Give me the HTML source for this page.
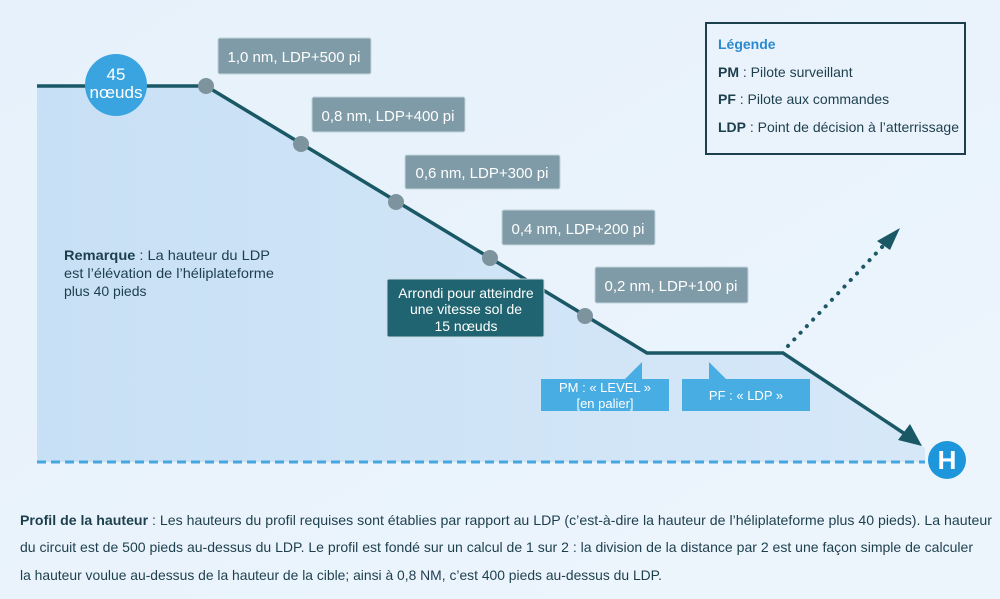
<!DOCTYPE html>
<html><head><meta charset="utf-8"><style>
html,body{margin:0;padding:0;background:#eaf3fc;}
svg{display:block;font-family:"Liberation Sans",sans-serif;}
</style></head><body>
<svg width="1000" height="599" viewBox="0 0 1000 599" xmlns="http://www.w3.org/2000/svg">
<defs>
<linearGradient id="bg" x1="0" y1="0" x2="1" y2="1"><stop offset="0" stop-color="#e6f1fb"/><stop offset="1" stop-color="#edf5fc"/></linearGradient>
<linearGradient id="fill" x1="0" y1="0" x2="1" y2="0"><stop offset="0" stop-color="#c8e0f5"/><stop offset="1" stop-color="#d6e8f8"/></linearGradient>
</defs>
<rect width="1000" height="599" fill="url(#bg)"/>
<polygon points="37,86 206,86 647,353 783,353 925,448 925,462 37,462" fill="url(#fill)"/>
<line x1="37" y1="462" x2="925" y2="462" stroke="#45a6e0" stroke-width="3" stroke-dasharray="9,5"/>
<polyline points="37,86 206,86 647,353 783,353 905,434" fill="none" stroke="#1b5866" stroke-width="3.5"/>
<polygon points="922,446 898,440 910,424" fill="#1b5866"/>
<line x1="788" y1="346" x2="884" y2="245" stroke="#1b5866" stroke-width="4" stroke-dasharray="0.1,9" stroke-linecap="round"/>
<polygon points="900,228 877,241 890,250" fill="#1b5866"/>
<g fill="#7d949f"><circle cx="206" cy="86" r="8"/><circle cx="301" cy="144" r="8"/><circle cx="396" cy="202" r="8"/><circle cx="490" cy="258" r="8"/><circle cx="585" cy="316" r="8"/></g>
<circle cx="116" cy="85" r="31" fill="#3aa4e0"/>
<text x="116" y="80" fill="#fff" font-size="17" text-anchor="middle">45</text>
<text x="116" y="98" fill="#fff" font-size="17" text-anchor="middle">nœuds</text>
<g fill="#7f9ba7" stroke="#c3d3dc" stroke-width="1">
<rect x="218" y="38" width="153" height="36" rx="2"/>
<rect x="312" y="97" width="153" height="35" rx="2"/>
<rect x="405" y="155" width="155" height="34" rx="2"/>
<rect x="502" y="210" width="153" height="35" rx="2"/>
<rect x="595" y="267" width="153" height="36" rx="2"/>
</g>
<g fill="#fff" font-size="15" text-anchor="middle">
<text x="294" y="62">1,0 nm, LDP+500 pi</text>
<text x="388" y="121">0,8 nm, LDP+400 pi</text>
<text x="482" y="178">0,6 nm, LDP+300 pi</text>
<text x="578" y="234">0,4 nm, LDP+200 pi</text>
<text x="671" y="291">0,2 nm, LDP+100 pi</text>
</g>
<rect x="387" y="279" width="157" height="58" rx="2" fill="#1f6470" stroke="#c8d9e0"/>
<g fill="#fff" font-size="14" text-anchor="middle">
<text x="466" y="298">Arrondi pour atteindre</text>
<text x="466" y="314">une vitesse sol de</text>
<text x="466" y="331">15 nœuds</text>
</g>
<path d="M541,379 H625 L642,362 V379 H669 V411 H541 Z" fill="#48ade3"/>
<path d="M682,379 V411 H810 V379 H726 L709,362 V379 Z" fill="#48ade3"/>
<g fill="#fff" font-size="13" text-anchor="middle">
<text x="605" y="392">PM : « LEVEL »</text>
<text x="605" y="408">[en palier]</text>
<text x="746" y="400">PF : « LDP »</text>
</g>
<circle cx="947" cy="460" r="19" fill="#1e96dc"/>
<text x="947" y="469" fill="#fff" font-size="26" font-weight="bold" text-anchor="middle">H</text>
<rect x="706" y="23" width="259" height="131" fill="#eaf3fc" stroke="#1b3f4d" stroke-width="2"/>
<text x="718" y="49" fill="#2a8ad0" font-size="14" font-weight="bold">Légende</text>
<g fill="#1d3f4d" font-size="14">
<text x="718" y="77"><tspan font-weight="bold">PM</tspan> : Pilote surveillant</text>
<text x="718" y="104"><tspan font-weight="bold">PF</tspan> : Pilote aux commandes</text>
<text x="718" y="132" textLength="241" lengthAdjust="spacingAndGlyphs"><tspan font-weight="bold">LDP</tspan> : Point de décision à l’atterrissage</text>
</g>
<g fill="#1d3f4d" font-size="14">
<text x="64" y="260" textLength="206" lengthAdjust="spacingAndGlyphs"><tspan font-weight="bold">Remarque</tspan> : La hauteur du LDP</text>
<text x="64" y="278" textLength="210" lengthAdjust="spacingAndGlyphs">est l’élévation de l’héliplateforme</text>
<text x="64" y="296">plus 40 pieds</text>
</g>
<g fill="#1d3f4d" font-size="14">
<text x="20" y="525" textLength="972" lengthAdjust="spacingAndGlyphs"><tspan font-weight="bold">Profil de la hauteur</tspan> : Les hauteurs du profil requises sont établies par rapport au LDP (c’est-à-dire la hauteur de l’héliplateforme plus 40 pieds). La hauteur</text>
<text x="20" y="552" textLength="953" lengthAdjust="spacingAndGlyphs">du circuit est de 500 pieds au-dessus du LDP. Le profil est fondé sur un calcul de 1 sur 2 : la division de la distance par 2 est une façon simple de calculer</text>
<text x="20" y="580" textLength="642" lengthAdjust="spacingAndGlyphs">la hauteur voulue au-dessus de la hauteur de la cible; ainsi à 0,8 NM, c’est 400 pieds au-dessus du LDP.</text>
</g>
</svg>
</body></html>
